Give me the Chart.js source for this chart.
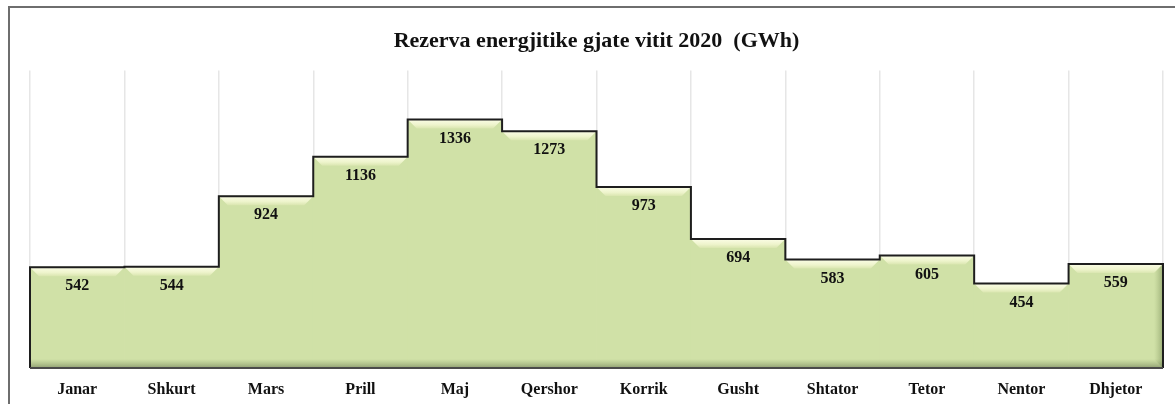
<!DOCTYPE html>
<html>
<head>
<meta charset="utf-8">
<script src="https://cdn.jsdelivr.net/npm/chart.js@4/dist/chart.umd.min.js"></script>
<style>
  html, body { margin: 0; padding: 0; background: #fff; }
  #wrap { position: relative; width: 1175px; height: 404px; }
  #frame {
    position: absolute; left: 8px; top: 6px; width: 1200px; height: 420px;
    border-top: 2px solid #6e6e6e; border-left: 2px solid #6e6e6e;
  }
  canvas { position: absolute; left: 0; top: 0; }
</style>
</head>
<body>
<div id="wrap">
  <div id="frame"></div>
  <canvas id="myChart" width="1175" height="404"></canvas>
</div>
<script>
// Monthly energy reserve, 2020 (GWh)
const months = ['Janar', 'Shkurt', 'Mars', 'Prill', 'Maj', 'Qershor', 'Korrik', 'Gusht', 'Shtator', 'Tetor', 'Nentor', 'Dhjetor'];
const reserve = [542, 544, 924, 1136, 1336, 1273, 973, 694, 583, 605, 454, 559];
const titleText = 'Rezerva energjitike gjate vitit 2020  (GWh)';

const serif = '"Liberation Serif", "DejaVu Serif", serif';

// draws the light bevel, the dark step outline and the value labels on top of the bars
const stepLook = {
  id: 'stepLook',
  afterDatasetsDraw(chart) {
    const ctx = chart.ctx;
    const bars = chart.getDatasetMeta(0).data;
    const base = chart.scales.y.getPixelForValue(0);
    const bev = 9;
    ctx.save();

    // bevel strip under each top edge
    bars.forEach((bar, i) => {
      const l = bar.x - bar.width / 2, r = bar.x + bar.width / 2;
      const g = ctx.createLinearGradient(0, bar.y, 0, bar.y + bev);
      g.addColorStop(0, '#fbfde6');
      g.addColorStop(0.6, '#eef4cc');
      g.addColorStop(1, '#dae6b0');
      ctx.fillStyle = g;
      ctx.beginPath();
      ctx.moveTo(l, bar.y);
      ctx.lineTo(r, bar.y);
      ctx.lineTo(r - bev, bar.y + bev);
      ctx.lineTo(l + bev, bar.y + bev);
      ctx.closePath();
      ctx.fill();
    });

    const first = bars[0], last = bars[bars.length - 1];
    const left = first.x - first.width / 2, right = last.x + last.width / 2;

    // darker right side of the last block
    const g2 = ctx.createLinearGradient(right - bev, 0, right, 0);
    g2.addColorStop(0, 'rgba(150,170,110,0)');
    g2.addColorStop(1, 'rgba(110,130,80,0.55)');
    ctx.fillStyle = g2;
    ctx.beginPath();
    ctx.moveTo(right, last.y);
    ctx.lineTo(right, base);
    ctx.lineTo(right - bev, base - bev);
    ctx.lineTo(right - bev, last.y + bev);
    ctx.closePath();
    ctx.fill();

    // bottom shadow
    const gb = ctx.createLinearGradient(0, base - bev, 0, base);
    gb.addColorStop(0, 'rgba(120,140,90,0)');
    gb.addColorStop(1, 'rgba(90,105,70,0.55)');
    ctx.fillStyle = gb;
    ctx.fillRect(left, base - bev, right - left, bev);

    // outline of the step area
    ctx.strokeStyle = '#1e1e1e';
    ctx.lineWidth = 2;
    ctx.beginPath();
    ctx.moveTo(left, base);
    bars.forEach((bar) => {
      ctx.lineTo(bar.x - bar.width / 2, bar.y);
      ctx.lineTo(bar.x + bar.width / 2, bar.y);
    });
    ctx.lineTo(right, base);
    ctx.stroke();
    ctx.strokeStyle = '#4a4a4a';
    ctx.lineWidth = 2;
    ctx.beginPath();
    ctx.moveTo(left, base);
    ctx.lineTo(right, base);
    ctx.stroke();

    // value labels
    ctx.fillStyle = '#111';
    ctx.font = 'bold 16px ' + serif;
    ctx.textAlign = 'center';
    ctx.textBaseline = 'middle';
    bars.forEach((bar, i) => {
      ctx.fillText(String(reserve[i]), bar.x, bar.y + 19);
    });
    ctx.restore();
  }
};

const ctx = document.getElementById('myChart').getContext('2d');
new Chart(ctx, {
  type: 'bar',
  data: {
    labels: months,
    datasets: [{
      label: 'Rezerva',
      data: reserve,
      backgroundColor: '#d0e1a7',
      borderWidth: 0,
      categoryPercentage: 1,
      barPercentage: 1
    }]
  },
  options: {
    responsive: false,
    animation: false,
    layout: {
      padding: { left: 30, right: 12, top: 28, bottom: 6 }
    },
    plugins: {
      legend: { display: false },
      tooltip: { enabled: false },
      title: {
        display: true,
        text: titleText,
        color: '#111',
        font: { family: serif, size: 22, weight: 'bold' },
        padding: { top: 0, bottom: 16 }
      }
    },
    scales: {
      x: {
        offset: true,
        border: { display: false },
        grid: { offset: true, color: '#e6e6e6', lineWidth: 1.5, drawTicks: false },
        ticks: {
          color: '#111',
          padding: 12,
          font: { family: serif, size: 16, weight: 'bold' }
        },
        afterFit(scale) {
          scale.height = 30;
        }
      },
      y: {
        display: false,
        min: 0,
        max: 1600
      }
    }
  },
  plugins: [stepLook]
});
</script>
</body>
</html>
